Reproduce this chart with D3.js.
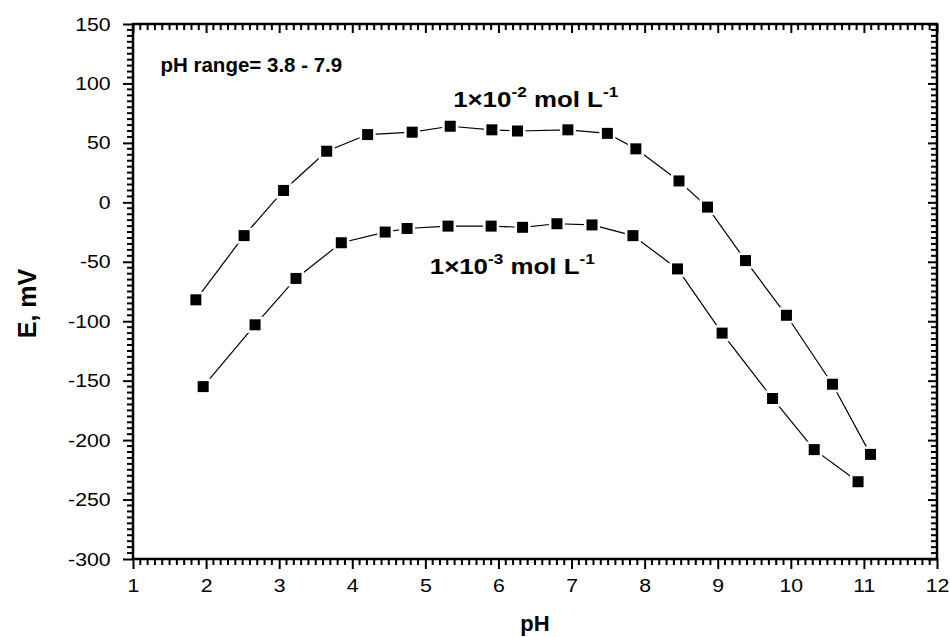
<!DOCTYPE html>
<html>
<head>
<meta charset="utf-8">
<script src="https://cdn.jsdelivr.net/npm/d3@7"></script>
<style>
  html, body { margin: 0; padding: 0; background: #fff; }
  svg { display: block; }
  text { font-family: "Liberation Sans", Arial, Helvetica, sans-serif; fill: #000; }
</style>
</head>
<body>
<svg id="chart" width="950" height="637"></svg>
<script>
// ---- data ----
const pHHigh = [1.86, 2.52, 3.06, 3.65, 4.21, 4.82, 5.34, 5.91, 6.26, 6.95, 7.49, 7.88, 8.47, 8.86, 9.38, 9.94, 10.57, 11.09];
const EHigh  = [-82, -28, 10, 43, 57, 59, 64, 61, 60, 61, 58, 45, 18, -4, -49, -95, -153, -212];
const pHLow  = [1.96, 2.67, 3.23, 3.85, 4.45, 4.75, 5.31, 5.90, 6.33, 6.80, 7.28, 7.84, 8.45, 9.06, 9.75, 10.32, 10.92];
const ELow   = [-155, -103, -64, -34, -25, -22, -20, -20, -21, -18, -19, -28, -56, -110, -165, -208, -235];
const xTicks = [1, 2, 3, 4, 5, 6, 7, 8, 9, 10, 11, 12];
const yTicks = [-300, -250, -200, -150, -100, -50, 0, 50, 100, 150];
const xLabel = "pH";
const yLabel = "E, mV";
const rangeNote = "pH range= 3.8 - 7.9";

// ---- layout ----
const W = 950, H = 637;
const margin = { left: 133, right: 13, top: 24, bottom: 78 };
const iw = W - margin.left - margin.right;
const ih = H - margin.top - margin.bottom;

const svg = d3.select("#chart");
const g = svg.append("g").attr("transform", `translate(${margin.left},${margin.top})`);

const x = d3.scaleLinear().domain([1, 12]).range([0, iw]);
const y = d3.scaleLinear().domain([-300, 150]).range([ih, 0]);

const xMinor = d3.range(10, 121).map(v => v / 10).filter(v => !xTicks.includes(v));
const yMinor = d3.range(-60, 31).map(v => v * 5).filter(v => !yTicks.includes(v));

const TICKFS = 19;
const STRETCH = 1.12;
const fmt = v => String(v);
const ML = 6; // minor tick length

function styleAxis(sel) {
  sel.select(".domain").remove();
  sel.selectAll("line").style("stroke", "#000").style("stroke-width", "2px");
}

// minor ticks
const minor = g.append("g");
function minorTicks(cls, data, f) {
  minor.selectAll("line." + cls).data(data).join("line").attr("class", cls)
    .each(function (d) { const c = f(d); d3.select(this).attr("x1", c[0]).attr("y1", c[1]).attr("x2", c[2]).attr("y2", c[3]); })
    .style("stroke", "#000").style("stroke-width", "2px");
}
minorTicks("mt", xMinor, d => [x(d), 0, x(d), ML]);
minorTicks("ml", yMinor, d => [-ML, y(d), 0, y(d)]);
minorTicks("mr", yMinor, d => [iw - ML, y(d), iw, y(d)]);
minorTicks("mb", xMinor, d => [x(d), ih + ML, x(d), ih]);

const gx = g.append("g").attr("transform", `translate(0,${ih})`)
  .call(d3.axisBottom(x).tickValues(xTicks).tickSize(10).tickPadding(10).tickFormat(fmt));
styleAxis(gx);
gx.selectAll("text").attr("font-size", TICKFS).attr("fill", "#000")
  .attr("transform", `scale(${STRETCH},1)`).attr("x", 0);

const gt = g.append("g")
  .call(d3.axisTop(x).tickValues(xTicks).tickSize(-9).tickFormat(() => ""));
styleAxis(gt);

const gy = g.append("g")
  .call(d3.axisLeft(y).tickValues(yTicks).tickSize(10).tickPadding(10).tickFormat(fmt));
styleAxis(gy);
gy.selectAll("text").attr("font-size", TICKFS).attr("fill", "#000")
  .attr("transform", `scale(${STRETCH},1)`);

const gr = g.append("g").attr("transform", `translate(${iw},0)`)
  .call(d3.axisRight(y).tickValues(yTicks).tickSize(-9).tickFormat(() => ""));
styleAxis(gr);

g.append("rect").attr("x", 0).attr("y", 0).attr("width", iw).attr("height", ih)
  .attr("fill", "none").attr("stroke", "#000").attr("stroke-width", 2.5);

const seriesList = [
  { xs: pHHigh, ys: EHigh },
  { xs: pHLow, ys: ELow }
];
const line = d3.line().x(d => x(d[0])).y(d => y(d[1]));
seriesList.forEach(s => {
  const pts = s.xs.map((v, i) => [v, s.ys[i]]);
  g.append("path").datum(pts).attr("d", line)
    .attr("fill", "none").attr("stroke", "#000").attr("stroke-width", 1.2);
  const ms = 11, gap = 16;
  g.append("g").selectAll("rect").data(pts).join("rect")
    .attr("x", d => x(d[0]) - gap / 2).attr("y", d => y(d[1]) - gap / 2)
    .attr("width", gap).attr("height", gap).attr("fill", "#fff");
  g.append("g").selectAll("rect").data(pts).join("rect")
    .attr("x", d => x(d[0]) - ms / 2).attr("y", d => y(d[1]) - ms / 2)
    .attr("width", ms).attr("height", ms).attr("fill", "#000");
});

g.append("text").attr("x", x(1.376)).attr("y", y(109.6))
  .attr("font-size", 20.5).attr("font-weight", "bold").text(rangeNote);

function concLabel(px, py, exp) {
  const t = g.append("text").attr("transform", `translate(${px},${py}) scale(1.15,1)`)
    .attr("font-size", 22.5).attr("font-weight", "bold");
  t.append("tspan").text("1\u00D710");
  t.append("tspan").attr("font-size", 15).attr("dy", -10).text(exp);
  t.append("tspan").attr("dy", 10).text(" mol L");
  t.append("tspan").attr("font-size", 15).attr("dy", -10).text("-1");
}
concLabel(x(5.38), y(80), "-2");
concLabel(x(5.06), y(-60.4), "-3");

svg.append("text").attr("x", margin.left + iw / 2).attr("y", 631)
  .attr("text-anchor", "middle").attr("font-size", 22).attr("font-weight", "bold").text(xLabel);
svg.append("text").attr("transform", `translate(36,${margin.top + ih / 2 + 12}) rotate(-90)`)
  .attr("text-anchor", "middle").attr("font-size", 25).attr("font-weight", "bold").text(yLabel);
</script>
</body>
</html>
